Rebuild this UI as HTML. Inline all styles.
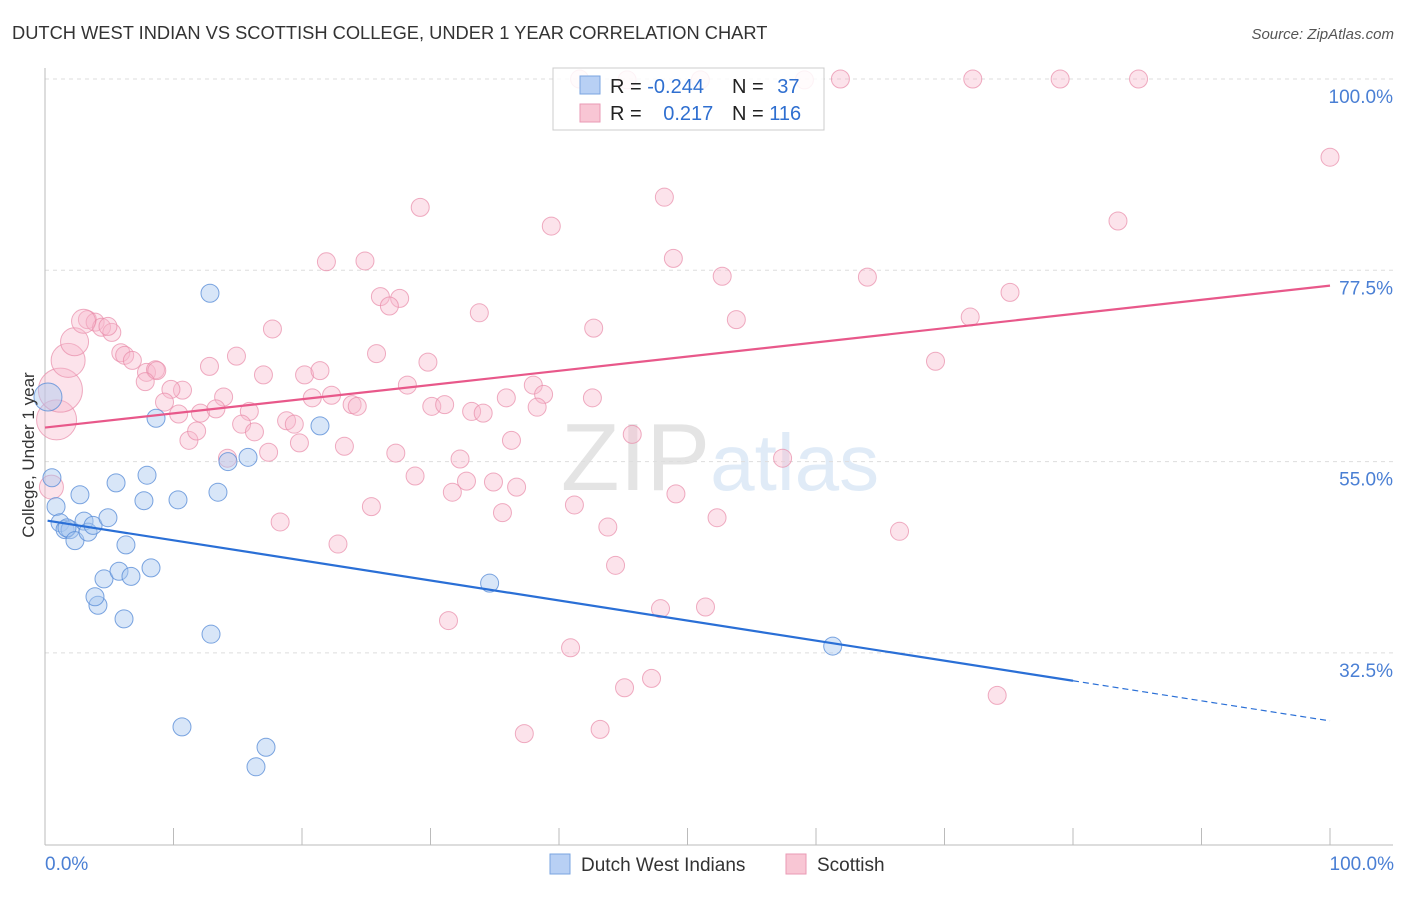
<!DOCTYPE html>
<html><head><meta charset="utf-8"><style>
body{margin:0;background:#fff;font-family:"Liberation Sans",sans-serif}
svg text{font-family:"Liberation Sans",sans-serif}
</style></head><body>
<svg id="chart" width="1406" height="892" xmlns="http://www.w3.org/2000/svg">
<text x="12" y="39" font-size="18.3" fill="#333">DUTCH WEST INDIAN VS SCOTTISH COLLEGE, UNDER 1 YEAR CORRELATION CHART</text>
<text x="1394" y="39" font-size="15" fill="#555" text-anchor="end" font-style="italic">Source: ZipAtlas.com</text>
<text x="720" y="490" font-size="96" text-anchor="middle" fill="#ececec" font-family="Liberation Serif"><tspan fill="#e4e4e4">ZIP</tspan><tspan fill="#e0ebf7" font-family="Liberation Sans" font-size="80">atlas</tspan></text>
<g id="grid"></g>
<g id="axes"></g>
<g id="pinkPts"></g>
<g id="bluePts"></g>
<g id="trends"></g>
<text transform="translate(34,455) rotate(-90)" font-size="17" fill="#333" text-anchor="middle">College, Under 1 year</text>
<text x="45" y="870" font-size="19" fill="#4a7fd4">0.0%</text>
<text x="1394" y="870" font-size="19" fill="#4a7fd4" text-anchor="end">100.0%</text>
<g>
<rect x="553" y="68" width="271" height="62" fill="#fff" fill-opacity="0.85" stroke="#ccc"/>
<rect x="580" y="76" width="20" height="18" fill="#b8d0f4" stroke="#7aa4e0"/>
<rect x="580" y="104" width="20" height="18" fill="#f8c6d4" stroke="#ea9ab4"/>
<text x="610" y="93" font-size="20" fill="#222">R = <tspan fill="#2f6fd0">-0.244</tspan></text>
<text x="732" y="93" font-size="20" fill="#222">N = <tspan fill="#2f6fd0" dx="8">37</tspan></text>
<text x="610" y="120" font-size="20" fill="#222">R = <tspan fill="#2f6fd0" dx="16">0.217</tspan></text>
<text x="732" y="120" font-size="20" fill="#222">N = <tspan fill="#2f6fd0">116</tspan></text>
</g>
<g>
<rect x="550" y="854" width="20" height="20" fill="#b8d0f4" stroke="#7aa4e0"/>
<text x="581" y="871" font-size="19" fill="#333">Dutch West Indians</text>
<rect x="786" y="854" width="20" height="20" fill="#f8c6d4" stroke="#ea9ab4"/>
<text x="817" y="871" font-size="19" fill="#333">Scottish</text>
</g>
</svg>
<script>
const yTicks=[100,77.5,55,32.5];
const blueX=[0.23,0.54,0.86,1.17,1.56,1.95,1.71,2.33,2.72,3.04,3.35,3.74,4.12,3.89,4.59,4.90,5.53,5.76,6.15,6.30,6.69,7.70,7.94,8.25,8.64,10.35,10.66,12.84,12.92,13.46,14.24,15.80,16.42,17.2,21.4,34.6,61.3];
const blueY=[62.6,53.1,49.7,47.8,47.0,47.0,47.2,45.7,51.1,48.0,46.7,47.5,38.1,39.1,41.2,48.4,52.5,42.1,36.5,45.2,41.5,50.4,53.4,42.5,60.1,50.5,23.8,74.8,34.7,51.4,55.0,55.5,19.1,21.4,59.2,40.7,33.3];
const blueR=[14,9,9,9,9,9,9,9,9,9,9,9,9,9,9,9,9,9,9,9,9,9,9,9,9,9,9,9,9,9,9,9,9,9,9,9,9];
const pinkX=[41.6,45.3,51.0,59.1,61.9,72.2,79.0,85.1,100,83.5,48.2,39.4,29.2,21.9,24.9,48.9,52.7,64.0,75.1,72.0,26.1,27.6,26.8,33.8,17.7,42.7,53.8,3.3,3.9,4.4,5.2,4.9,5.9,6.2,6.8,7.9,8.6,8.7,7.8,10.7,12.8,14.9,17.0,20.2,21.4,25.8,29.8,28.2,22.3,20.8,23.9,24.3,13.9,9.8,9.3,10.4,12.1,13.3,15.9,15.3,16.3,18.8,19.4,11.2,11.8,14.2,17.4,19.8,23.3,27.3,28.8,25.4,18.3,22.8,30.1,31.1,33.2,34.1,35.9,38.0,38.8,38.3,42.6,36.3,45.7,32.3,31.7,32.8,34.9,36.7,35.6,41.2,43.8,49.1,52.3,57.4,69.3,66.5,44.4,31.4,47.9,51.4,40.9,45.1,47.2,37.3,43.2,74.1,0.9,1.2,1.8,2.3,0.5,3.0];
const pinkY=[100,99.9,99.9,99.9,100,100,100,100,90.8,83.3,86.1,82.7,84.9,78.5,78.6,78.9,76.8,76.7,74.9,72.0,74.4,74.2,73.3,72.5,70.6,70.7,71.7,71.7,71.4,70.8,70.2,70.9,67.8,67.5,66.9,65.5,65.8,65.7,64.4,63.4,66.2,67.4,65.2,65.2,65.7,67.7,66.7,64.0,62.8,62.5,61.7,61.5,62.6,63.5,62.0,60.6,60.7,61.2,60.9,59.4,58.5,59.8,59.4,57.5,58.6,55.4,56.1,57.2,56.8,56.0,53.3,49.7,47.9,45.3,61.5,61.7,60.9,60.7,62.5,64.0,62.9,61.4,62.5,57.5,58.2,55.3,51.4,52.7,52.6,52.0,49.0,49.9,47.3,51.2,48.4,55.4,66.8,46.8,42.8,36.3,37.7,37.9,33.1,28.4,29.5,23.0,23.5,27.5,59.9,63.4,66.9,69.1,52.0,71.5];
const pinkR=[9,9,9,9,9,9,9,9,9,9,9,9,9,9,9,9,9,9,9,9,9,9,9,9,9,9,9,9,9,9,9,9,9,9,9,9,9,9,9,9,9,9,9,9,9,9,9,9,9,9,9,9,9,9,9,9,9,9,9,9,9,9,9,9,9,9,9,9,9,9,9,9,9,9,9,9,9,9,9,9,9,9,9,9,9,9,9,9,9,9,9,9,9,9,9,9,9,9,9,9,9,9,9,9,9,9,9,9,20,22,17,14,12,12];
const blueTrend=[48.1,-0.236];
const pinkTrend=[59.0,0.167];
const NS="http://www.w3.org/2000/svg";
const X=v=>45+v*12.85, Y=v=>79+(100-v)*8.502;
function mk(t,a,p){const e=document.createElementNS(NS,t);for(const k in a)e.setAttribute(k,a[k]);p.appendChild(e);return e;}
const grid=document.getElementById('grid'),axes=document.getElementById('axes');
yTicks.forEach(t=>{
 const l=mk('line',{x1:45,x2:1393,y1:Y(t),y2:Y(t),stroke:'#ddd','stroke-dasharray':'4,4'},grid);
 
 
 const tx=mk('text',{x:1393,y:Y(t)+24,'font-size':19,fill:'#4a7fd4','text-anchor':'end'},grid);
 tx.textContent=t.toFixed(1)+'%';
 
 
});
mk('line',{x1:45,x2:45,y1:68,y2:845,stroke:'#bbb'},axes);
mk('line',{x1:45,x2:1393,y1:845,y2:845,stroke:'#bbb'},axes);
for(let i=0;i<=10;i++){const t=mk('line',{x1:X(i*10),x2:X(i*10),y1:828,y2:845,stroke:'#bbb'},axes);
 
 }
const pg=document.getElementById('pinkPts');
pinkX.forEach((x,i)=>{const c=mk('circle',{cx:X(x),cy:Y(pinkY[i]),r:pinkR[i],fill:'#f7b8cc','fill-opacity':0.4,stroke:'#e88aa8','stroke-opacity':0.7},pg);
 
 });
const bg=document.getElementById('bluePts');
blueX.forEach((x,i)=>{const c=mk('circle',{cx:X(x),cy:Y(blueY[i]),r:blueR[i],fill:'#a8c8f0','fill-opacity':0.45,stroke:'#5b8fd8','stroke-opacity':0.8},bg);
 
 });
const tg=document.getElementById('trends');
const f=(tr,x)=>tr[0]+tr[1]*x;
let l1=mk('line',{x1:X(0.2),y1:Y(f(blueTrend,0.2)),x2:X(80),y2:Y(f(blueTrend,80)),stroke:'#2a6fd6','stroke-width':2.2},tg);


let l2=mk('line',{x1:X(80),y1:Y(f(blueTrend,80)),x2:X(100),y2:Y(f(blueTrend,100)),stroke:'#2a6fd6','stroke-width':1.2,'stroke-dasharray':'6,4'},tg);


let l3=mk('line',{x1:X(0),y1:Y(f(pinkTrend,0)),x2:X(100),y2:Y(f(pinkTrend,100)),stroke:'#e8588a','stroke-width':2.2},tg);


</script>
</body></html>
